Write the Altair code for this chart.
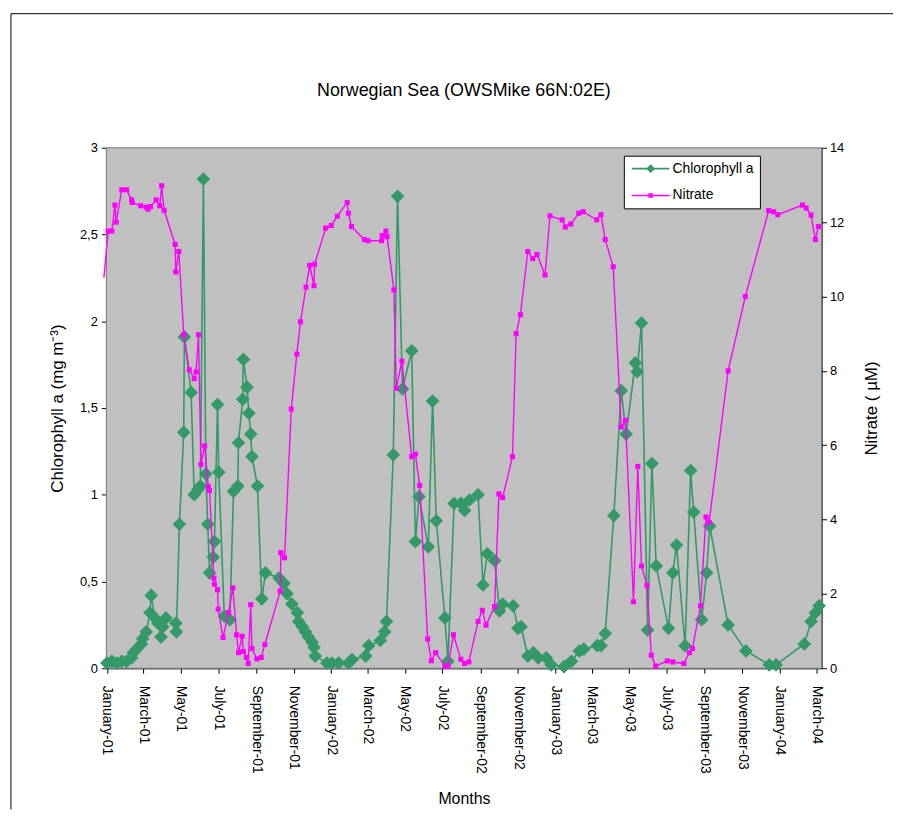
import altair as alt
import pandas as pd

# ---------------- data ----------------
chl_dates = [
    "2001-01-01", "2001-01-09", "2001-01-17", "2001-01-25", "2001-02-02", "2001-02-10",
    "2001-02-13", "2001-02-18", "2001-02-26", "2001-02-28", "2001-03-06", "2001-03-12",
    "2001-03-14", "2001-03-20", "2001-03-25", "2001-03-30", "2001-04-02", "2001-04-07",
    "2001-04-23", "2001-04-24", "2001-04-29", "2001-05-06", "2001-05-07", "2001-05-18",
    "2001-05-23", "2001-05-29", "2001-06-02", "2001-06-07", "2001-06-11", "2001-06-14",
    "2001-06-17", "2001-06-23", "2001-06-25", "2001-06-30", "2001-07-02", "2001-07-11",
    "2001-07-20", "2001-07-26", "2001-08-02", "2001-08-03", "2001-08-10", "2001-08-11",
    "2001-08-17", "2001-08-20", "2001-08-23", "2001-08-25", "2001-09-03", "2001-09-10",
    "2001-09-16", "2001-10-08", "2001-10-16", "2001-10-21", "2001-10-29", "2001-11-07",
    "2001-11-09", "2001-11-15", "2001-11-20", "2001-11-25", "2001-12-01", "2001-12-04",
    "2001-12-06", "2001-12-25", "2002-01-02", "2002-01-13", "2002-01-29", "2002-02-04",
    "2002-02-26", "2002-03-03", "2002-03-22", "2002-03-29", "2002-04-01", "2002-04-12",
    "2002-04-19", "2002-04-27", "2002-05-12", "2002-05-18", "2002-05-24", "2002-06-08",
    "2002-06-15", "2002-06-21", "2002-07-05", "2002-07-10", "2002-07-20", "2002-07-31",
    "2002-08-06", "2002-08-14", "2002-08-28", "2002-09-05", "2002-09-12", "2002-09-24",
    "2002-10-02", "2002-10-07", "2002-10-24", "2002-11-01", "2002-11-06", "2002-11-17",
    "2002-11-26", "2002-12-04", "2002-12-17", "2002-12-25", "2003-01-15", "2003-01-27",
    "2003-02-09", "2003-02-16", "2003-03-10", "2003-03-16", "2003-03-23", "2003-04-06",
    "2003-04-18", "2003-04-26", "2003-05-11", "2003-05-14", "2003-05-21", "2003-05-31",
    "2003-06-07", "2003-06-14", "2003-07-04", "2003-07-11", "2003-07-17", "2003-07-31",
    "2003-08-09", "2003-08-14", "2003-08-27", "2003-09-04", "2003-09-09", "2003-10-09",
    "2003-11-07", "2003-12-15", "2003-12-26", "2004-02-10", "2004-02-21", "2004-02-28",
    "2004-03-05",
]
chl_values = [
    0.03, 0.04, 0.03, 0.04, 0.04, 0.06,
    0.09, 0.11, 0.14, 0.17, 0.21, 0.32,
    0.42, 0.29, 0.26, 0.18, 0.24, 0.29,
    0.26, 0.21, 0.83, 1.36, 1.91, 1.59,
    1.00, 1.03, 1.05, 2.82, 1.12, 0.83,
    0.55, 0.64, 0.73, 1.52, 1.13, 0.30,
    0.28, 1.02, 1.05, 1.30, 1.55, 1.78,
    1.62, 1.47, 1.35, 1.22, 1.05, 0.40,
    0.55, 0.52, 0.49, 0.43, 0.37, 0.32,
    0.27, 0.24, 0.21, 0.18, 0.15, 0.12,
    0.07, 0.03, 0.03, 0.03, 0.03, 0.05,
    0.07, 0.13, 0.16, 0.21, 0.27, 1.23,
    2.72, 1.61, 1.83, 0.73, 0.99, 0.70,
    1.54, 0.85, 0.29, 0.04, 0.95, 0.95,
    0.91, 0.97, 1.00, 0.48, 0.66, 0.62,
    0.33, 0.37, 0.36, 0.23, 0.24, 0.07,
    0.09, 0.06, 0.06, 0.02, 0.01, 0.04,
    0.10, 0.11, 0.13, 0.13, 0.20, 0.88,
    1.60, 1.35, 1.76, 1.71, 1.99, 0.22,
    1.18, 0.59, 0.23, 0.55, 0.71, 0.13,
    1.14, 0.90, 0.28, 0.55, 0.82, 0.25,
    0.10, 0.02, 0.02, 0.14, 0.27, 0.32,
    0.36,
]

nitrate_dates = [
    "2000-12-27", "2001-01-03", "2001-01-09", "2001-01-14", "2001-01-16", "2001-01-25",
    "2001-02-02", "2001-02-10", "2001-02-11", "2001-02-25", "2001-03-06", "2001-03-09",
    "2001-03-13", "2001-03-22", "2001-03-28", "2001-03-31", "2001-04-04", "2001-04-22",
    "2001-04-23", "2001-04-28", "2001-05-06", "2001-05-15", "2001-05-23", "2001-05-26",
    "2001-05-30", "2001-06-03", "2001-06-09", "2001-06-15", "2001-06-17", "2001-06-24",
    "2001-06-25", "2001-06-30", "2001-07-01", "2001-07-09", "2001-07-18", "2001-07-25",
    "2001-07-31", "2001-08-03", "2001-08-09", "2001-08-11", "2001-08-16", "2001-08-19",
    "2001-08-23", "2001-08-25", "2001-09-02", "2001-09-09", "2001-09-15", "2001-10-10",
    "2001-10-11", "2001-10-17", "2001-10-28", "2001-11-06", "2001-11-12", "2001-11-21",
    "2001-11-27", "2001-12-04", "2001-12-05", "2001-12-23", "2002-01-01", "2002-01-11",
    "2002-01-27", "2002-01-29", "2002-02-03", "2002-02-24", "2002-03-02", "2002-03-24",
    "2002-03-25", "2002-03-31", "2002-04-02", "2002-04-13", "2002-04-17", "2002-04-26",
    "2002-05-12", "2002-05-18", "2002-05-25", "2002-06-07", "2002-06-13", "2002-06-20",
    "2002-07-05", "2002-07-10", "2002-07-19", "2002-07-31", "2002-08-06", "2002-08-13",
    "2002-08-28", "2002-09-04", "2002-09-10", "2002-09-24", "2002-10-01", "2002-10-07",
    "2002-10-23", "2002-10-29", "2002-11-05", "2002-11-17", "2002-11-25", "2002-12-02",
    "2002-12-15", "2002-12-23", "2003-01-12", "2003-01-17", "2003-01-26", "2003-02-08",
    "2003-02-15", "2003-03-09", "2003-03-16", "2003-03-23", "2003-04-05", "2003-04-18",
    "2003-04-25", "2003-05-08", "2003-05-15", "2003-05-21", "2003-05-30", "2003-06-06",
    "2003-06-13", "2003-07-02", "2003-07-11", "2003-07-29", "2003-08-07", "2003-08-12",
    "2003-08-25", "2003-09-03", "2003-09-08", "2003-10-09", "2003-11-06", "2003-12-14",
    "2003-12-22", "2003-12-29", "2004-02-07", "2004-02-13", "2004-02-21", "2004-02-28",
    "2004-03-04",
]
nitrate_values = [
    10.5, 11.76, 11.76, 12.46, 12.00, 12.87,
    12.87, 12.60, 12.53, 12.44, 12.40, 12.35,
    12.42, 12.60, 12.44, 12.98, 12.32, 11.40,
    10.66, 11.21, 8.97, 8.03, 7.79, 7.97,
    8.97, 5.48, 5.98, 4.89, 4.78, 2.42,
    2.26, 2.11, 1.59, 0.83, 1.50, 2.16,
    0.90, 0.42, 0.86, 0.45, 0.29, 0.13,
    1.71, 0.53, 0.25, 0.29, 0.64, 2.08,
    3.11, 2.97, 6.97, 8.45, 9.32, 10.25,
    10.84, 10.29, 10.87, 11.84, 11.91, 12.16,
    12.53, 12.24, 11.88, 11.53, 11.50, 11.50,
    11.64, 11.76, 11.61, 10.18, 7.53, 8.26,
    5.69, 5.76, 4.92, 0.79, 0.20, 0.42,
    0.06, 0.06, 0.90, 0.24, 0.13, 0.17,
    1.26, 1.56, 1.16, 1.66, 4.69, 4.59,
    5.69, 9.00, 9.51, 11.21, 11.02, 11.13,
    10.58, 12.17, 12.06, 11.87, 11.95, 12.24,
    12.28, 12.06, 12.20, 11.53, 10.80, 6.49,
    6.67, 1.79, 5.43, 2.75, 2.23, 0.35,
    0.06, 0.20, 0.17, 0.13, 0.42, 0.53,
    1.68, 4.07, 3.92, 8.00, 10.00, 12.31,
    12.28, 12.20, 12.46, 12.38, 12.19, 11.53,
    11.88,
]

series_names = ["Chlorophyll a", "Nitrate"]
tick_year_months = [
    (2001, 1), (2001, 3), (2001, 5), (2001, 7), (2001, 9), (2001, 11),
    (2002, 1), (2002, 3), (2002, 5), (2002, 7), (2002, 9), (2002, 11),
    (2003, 1), (2003, 3), (2003, 5), (2003, 7), (2003, 9), (2003, 11),
    (2004, 1), (2004, 3),
]
chl_ticks = [0, 0.5, 1, 1.5, 2, 2.5, 3]
nitrate_ticks = [0, 2, 4, 6, 8, 10, 12, 14]

# ---------------- styling ----------------
GREEN = "#339966"
MAGENTA = "#FF00FF"
PLOT_BG = "#C0C0C0"
FONT = "Liberation Sans"
W, H = 720, 524

chl_df = pd.DataFrame({"date": chl_dates, "chl": chl_values})
no3_df = pd.DataFrame({"date": nitrate_dates, "nitrate": nitrate_values})
legend_df = pd.DataFrame({"series": series_names})
one_row = pd.DataFrame({"k": [0]})

x_enc = alt.X(
    "date:T",
    scale=alt.Scale(
        type="utc",
        domain=[
            alt.DateTime(year=2000, month=12, date=31, utc=True),
            alt.DateTime(year=2004, month=3, date=9, utc=True),
        ],
    ),
    axis=alt.Axis(
        title="Months",
        values=[alt.DateTime(year=y, month=m, date=1, utc=True) for y, m in tick_year_months],
        format="%B-%y",
        labelAngle=90,
        labelOverlap=False,
        labelFlush=False,
        labelBound=False,
        labelFontSize=14,
        labelPadding=12,
        tickSize=5,
        titlePadding=17,
        titleFontSize=16,
    ),
)

chl_y = alt.Y(
    "chl:Q",
    scale=alt.Scale(domain=[0, 3], nice=False, zero=True),
    axis=alt.Axis(
        title="Chlorophyll a (mg m\u207b\u00b3)",
        orient="left",
        values=chl_ticks,
        labelExpr="replace(toString(datum.value), '.', ',')",
        labelFontSize=13,
        labelPadding=4,
        tickSize=5,
        titlePadding=13,
        titleFontSize=17,
    ),
)
no3_y = alt.Y(
    "nitrate:Q",
    scale=alt.Scale(domain=[0, 14], nice=False, zero=True),
    axis=alt.Axis(
        title="Nitrate ( \u00b5M)",
        orient="right",
        values=nitrate_ticks,
        labelFontSize=13,
        labelPadding=3,
        tickSize=5,
        titleAngle=270,
        titlePadding=37,
        titleFontSize=17,
    ),
)

# plot-area background
plot_bg = alt.Chart(one_row).mark_rect(fill=PLOT_BG, stroke="#808080", strokeWidth=1).encode(
    x=alt.value(0), x2=alt.value(W), y=alt.value(0), y2=alt.value(H)
)

chl_line = alt.Chart(chl_df).mark_line(color=GREEN, strokeWidth=1.6).encode(x=x_enc, y=chl_y)
chl_pts = alt.Chart(chl_df).mark_point(
    shape="diamond", filled=True, size=190, color=GREEN, opacity=1
).encode(x=x_enc, y=chl_y)
chl_layer = alt.layer(chl_line, chl_pts)

no3_line = alt.Chart(no3_df).mark_line(color=MAGENTA, strokeWidth=1.4).encode(x=x_enc, y=no3_y)
no3_pts = alt.Chart(no3_df).transform_filter(
    "time(datum.date) >= utc(2001, 0, 1)"
).mark_point(shape="square", filled=True, size=26, color=MAGENTA, opacity=1).encode(x=x_enc, y=no3_y)
no3_layer = alt.layer(no3_line, no3_pts)

# legend symbols: line with the series marker
legend_paths = [
    "M-3.8,-0.16H3.8V0.16H-3.8Z M0,-0.9L0.9,0L0,0.9L-0.9,0Z",
    "M-3.8,-0.16H3.8V0.16H-3.8Z M-0.47,-0.47H0.47V0.47H-0.47Z",
]
leg = alt.Legend(
    title=None,
    orient="none",
    legendX=521,
    legendY=8,
    direction="vertical",
    fillColor="white",
    strokeColor="black",
    padding=6,
    symbolSize=100,
    symbolOffset=14,
    symbolStrokeWidth=0,
    symbolOpacity=1,
    labelOffset=15,
    labelFont=FONT,
    labelFontSize=14,
    labelColor="black",
    rowPadding=13,
    cornerRadius=0,
)
legend_layer = alt.Chart(legend_df).mark_point(filled=True, opacity=0).encode(
    color=alt.Color(
        "series:N",
        scale=alt.Scale(domain=series_names, range=[GREEN, MAGENTA]),
        legend=leg,
    ),
    shape=alt.Shape(
        "series:N",
        scale=alt.Scale(domain=series_names, range=legend_paths),
        legend=leg,
    ),
)

# outer chart frame (top and left edges)
frame_top = alt.Chart(one_row).mark_rule(color="black", strokeWidth=1).encode(
    x=alt.value(-96), x2=alt.value(792), y=alt.value(-135)
)
frame_left = alt.Chart(one_row).mark_rule(color="black", strokeWidth=1).encode(
    x=alt.value(-96), y=alt.value(-135), y2=alt.value(666)
)

chart = (
    alt.layer(frame_top, frame_left, plot_bg, chl_layer, no3_layer, legend_layer)
    .resolve_scale(y="independent", color="independent", shape="independent")
    .properties(
        width=W,
        height=H,
        padding=2,
        background="white",
        title=alt.TitleParams(
            "Norwegian Sea (OWSMike 66N:02E)",
            font=FONT,
            fontSize=18,
            fontWeight="normal",
            color="black",
            anchor="middle",
            offset=-87,
        ),
    )
    .configure_view(fill=PLOT_BG, stroke="#808080", strokeWidth=1)
    .configure_axis(
        grid=False,
        domainColor="black",
        tickColor="black",
        labelColor="black",
        titleColor="black",
        labelFont=FONT,
        titleFont=FONT,
        titleFontWeight="normal",
    )
)

chart.save("out.html", embed_options={"renderer": "svg", "actions": False})
